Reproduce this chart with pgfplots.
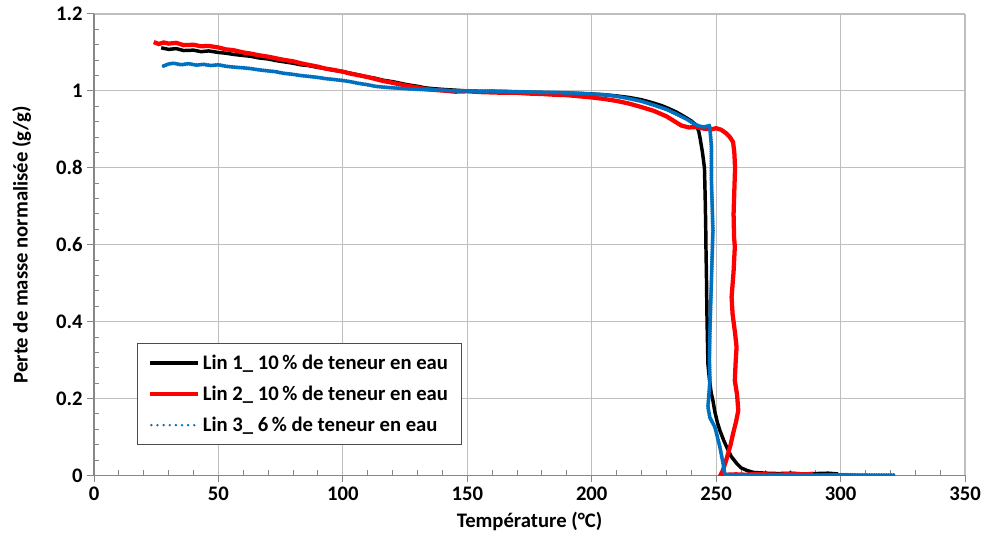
\documentclass[border=0pt]{standalone}
\usepackage{pgfplots}
\pgfplotsset{compat=1.18}
\usepackage{fontspec}
\setmainfont{Carlito}
\usetikzlibrary{calc}
\definecolor{exblue}{RGB}{0,112,192}
\definecolor{gridgray}{RGB}{190,190,190}
\definecolor{axgray}{RGB}{135,135,135}
\newcommand{\chartfont}{\fontsize{15.5}{18}\selectfont\bfseries}
\begin{document}
\begin{tikzpicture}
\begin{axis}[
 scale only axis, width=653pt, height=346pt,
 xmin=0, xmax=350, ymin=0, ymax=1.2,
 xtick={0,50,100,150,200,250,300,350},
 ytick={0,0.2,0.4,0.6,0.8,1,1.2},
 minor x tick num=4, minor y tick num=4,
 grid=major, major grid style={gridgray, line width=0.8pt},
 axis lines*=left, axis line style={axgray, line width=0.9pt},
 tick style={axgray, line width=0.75pt}, tick align=outside,
 major tick length=5pt, minor tick length=4pt,
 minor x tick style={yshift=4pt}, minor y tick style={xshift=4pt},
 /pgf/number format/assume math mode=true,
 ticklabel style={font=\chartfont},
 label style={font=\chartfont},
 xlabel={Température (°C)},
 ylabel={Perte de masse normalisée (g/g)},
 ylabel style={yshift=12pt},
 xlabel style={yshift=-2pt},
 legend cell align=left,
 legend style={at={(0.049,0.067)}, anchor=south west, draw=black!70, line width=0.75pt,
   font=\chartfont, row sep=7pt, inner xsep=8pt, inner ysep=6pt},
 legend image code/.code={\draw[#1] (0pt,0pt) -- (36pt,0pt);},
]
\addplot[black, line width=2.6pt] table {
27 1.112
30 1.108
33 1.110
36 1.105
40 1.106
43 1.102
46 1.104
50 1.100
53 1.098
56 1.095
60 1.092
63 1.090
66 1.086
70 1.083
73 1.079
76 1.076
80 1.072
83 1.068
86 1.066
90 1.061
93 1.058
96 1.054
100 1.050
103 1.046
106 1.042
110 1.036
113 1.033
116 1.028
120 1.024
123 1.020
126 1.016
130 1.012
133 1.008
136 1.006
140 1.004
145 1.002
150 1.000
155 0.999
160 0.998
165 0.999
170 0.997
175 0.996
180 0.996
185 0.995
190 0.994
195 0.993
200 0.992
205 0.990
210 0.987
215 0.983
220 0.977
224 0.970
228 0.962
231 0.954
234 0.945
237 0.934
240 0.922
242 0.911
243 0.895
243.6 0.875
244.5 0.84
245.3 0.80
245.6 0.72
245.8 0.65
245.9 0.594
246.1 0.52
246.3 0.42
246.5 0.35
246.7 0.29
247.3 0.25
248.0 0.215
248.7 0.195
249.5 0.165
250.5 0.138
251.5 0.117
253 0.092
254.3 0.073
256 0.05
258.3 0.031
260 0.02
262.4 0.013
265 0.008
270 0.006
275 0.005
280 0.006
285 0.004
290 0.005
295 0.006
299 0.004
};
\addlegendentry{Lin 1\_ 10\,\% de teneur en eau}
\addplot[red, line width=3.2pt] table {
24 1.127
26 1.122
28 1.126
30 1.123
33 1.125
36 1.119
40 1.120
43 1.116
46 1.117
50 1.113
53 1.108
56 1.106
60 1.100
63 1.097
66 1.093
70 1.089
73 1.085
76 1.081
80 1.077
83 1.072
86 1.068
90 1.063
93 1.058
96 1.055
100 1.050
103 1.045
106 1.041
110 1.036
113 1.031
116 1.026
120 1.021
123 1.017
126 1.013
130 1.009
133 1.005
136 1.003
140 1.001
145 0.998
150 0.999
155 0.997
160 0.996
165 0.995
170 0.995
175 0.993
180 0.992
185 0.990
190 0.989
195 0.986
200 0.983
205 0.979
210 0.974
215 0.967
220 0.958
225 0.948
230 0.934
233 0.922
236 0.910
239 0.905
242 0.906
245 0.902
248 0.900
250 0.903
252 0.899
254 0.89
255.5 0.88
256.8 0.867
257.3 0.84
257.6 0.80
257.3 0.74
257.0 0.68
257.2 0.62
257.5 0.595
257.0 0.53
256.2 0.464
256.6 0.42
257.6 0.37
258.2 0.334
257.8 0.29
257.5 0.247
258.4 0.21
258.9 0.169
258.0 0.14
256.8 0.109
255.8 0.08
254.8 0.057
253.8 0.035
252.7 0.013
252.0 0.004
254 0.002
258 0.003
262 0.002
266 0.004
270 0.003
275 0.002
280 0.004
285 0.003
289 0.004
};
\addlegendentry{Lin 2\_ 10\,\% de teneur en eau}
\addplot[exblue, line width=3pt, dash pattern=on 0pt off 1.8pt, line cap=round,
  legend image code/.code={\draw[exblue, line width=2pt, dash pattern=on 0pt off 4.6pt, line cap=round] (1pt,0pt) -- (36pt,0pt);}] table {
28 1.065
30 1.070
32 1.072
35 1.068
38 1.071
41 1.067
44 1.069
47 1.066
50 1.068
53 1.064
56 1.062
60 1.060
63 1.058
66 1.055
70 1.052
73 1.050
76 1.046
80 1.043
83 1.040
86 1.038
90 1.035
93 1.032
96 1.030
100 1.027
103 1.024
106 1.020
110 1.016
113 1.012
116 1.010
120 1.008
125 1.006
130 1.004
135 1.003
140 1.002
145 1.000
150 1.000
155 0.999
160 1.000
165 0.998
170 0.998
175 0.997
180 0.996
185 0.996
190 0.995
195 0.994
200 0.992
205 0.990
210 0.986
215 0.980
220 0.973
225 0.963
230 0.952
234 0.940
238 0.927
241 0.915
243 0.909
245 0.906
247.4 0.910
248.1 0.855
248.1 0.768
248.7 0.638
248.1 0.507
247.5 0.378
247.3 0.30
247.5 0.247
246.7 0.178
247.5 0.15
249.5 0.126
250.5 0.10
251.5 0.074
252.8 0.031
253.5 0.002
258 0.001
265 0.002
270 0.001
280 0.002
290 0.001
300 0.002
310 0.001
321.8 0.001
};
\addlegendentry{Lin 3\_ 6\,\% de teneur en eau}
\end{axis}
\pgfresetboundingbox
\path ($(current axis.south west)+(-70.5pt,-49.5pt)$) rectangle ($(current axis.north east)+(14.25pt,10.5pt)$);
\end{tikzpicture}
\end{document}
